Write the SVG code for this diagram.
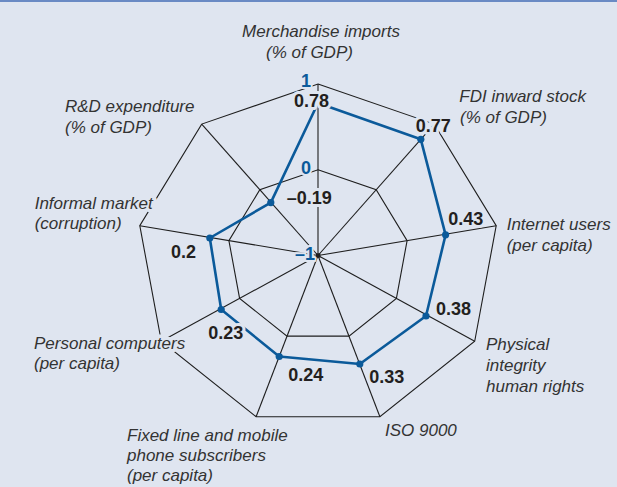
<svg xmlns="http://www.w3.org/2000/svg" width="617" height="487" viewBox="0 0 617 487">
<style>
.grid{fill:none;stroke:#1e1e1e;stroke-width:1.1;stroke-linejoin:miter}
.axis{stroke:#1e1e1e;stroke-width:1.1}
.series{fill:none;stroke:#0b5a9a;stroke-width:2.6;stroke-linejoin:round}
.dot{fill:#0b5a9a}
.lbl{font-family:"Liberation Sans",Arial,sans-serif;font-style:italic;font-size:17px;fill:#333333;stroke:#dfe5f0;stroke-width:7;stroke-linejoin:round;paint-order:stroke}
.val{font-family:"Liberation Sans",Arial,sans-serif;font-weight:bold;font-size:18px;fill:#231f20;stroke:#dfe5f0;stroke-width:6;stroke-linejoin:round;paint-order:stroke}
.scale{font-family:"Liberation Sans",Arial,sans-serif;font-weight:bold;font-size:18px;fill:#0b5a9a;text-anchor:end;stroke:#dfe5f0;stroke-width:4;stroke-linejoin:round;paint-order:stroke}
</style>
<rect x="0" y="0" width="617" height="487" fill="#dfe5f0"/>
<rect x="0" y="0" width="617" height="2" fill="#6a8ac4"/>
<g id="grid">
<polygon class="grid" points="318,84 434.3,124.1 496.2,225.7 474.7,341.3 379.9,416.7 256.1,416.7 161.3,341.3 139.8,225.7 201.7,124.1"/>
<polygon class="grid" points="318,169.8 376.2,189.8 407.1,240.6 396.4,298.4 349,336.1 287,336.1 239.6,298.4 228.9,240.6 259.8,189.8"/>
</g>
<g id="connectors">
<line class="axis" x1="318" y1="255.5" x2="318" y2="84"/>
<line class="axis" x1="318" y1="255.5" x2="434.3" y2="124.1"/>
<line class="axis" x1="318" y1="255.5" x2="496.2" y2="225.7"/>
<line class="axis" x1="318" y1="255.5" x2="474.7" y2="341.3"/>
<line class="axis" x1="318" y1="255.5" x2="379.9" y2="416.7"/>
<line class="axis" x1="318" y1="255.5" x2="256.1" y2="416.7"/>
<line class="axis" x1="318" y1="255.5" x2="161.3" y2="341.3"/>
<line class="axis" x1="318" y1="255.5" x2="139.8" y2="225.7"/>
<line class="axis" x1="318" y1="255.5" x2="201.7" y2="124.1"/>
<rect x="316" y="253.3" width="4.4" height="4.4" fill="#1e1e1e"/>
</g>
<g id="series">
<polygon class="series" points="318,103 420.8,139.3 445.6,234.8 426,316 359.8,364 279.2,356.5 221.2,309.5 209.8,238 270.8,202.6"/>
<circle class="dot" cx="318" cy="103" r="3.6"/>
<circle class="dot" cx="420.8" cy="139.3" r="3.6"/>
<circle class="dot" cx="445.6" cy="234.8" r="3.6"/>
<circle class="dot" cx="426" cy="316" r="3.6"/>
<circle class="dot" cx="359.8" cy="364" r="3.6"/>
<circle class="dot" cx="279.2" cy="356.5" r="3.6"/>
<circle class="dot" cx="221.2" cy="309.5" r="3.6"/>
<circle class="dot" cx="209.8" cy="238" r="3.6"/>
<circle class="dot" cx="270.8" cy="202.6" r="3.6"/>
</g>
<g id="scale">
<text class="scale" x="311" y="87">1</text>
<text class="scale" x="311" y="174">0</text>
<text class="scale" x="315" y="259.5">–1</text>
</g>
<g id="values">
<text class="val" x="294" y="106.5">0.78</text>
<text class="val" x="415.7" y="131.7">0.77</text>
<text class="val" x="448.3" y="225">0.43</text>
<text class="val" x="436" y="315">0.38</text>
<text class="val" x="369.3" y="383.3">0.33</text>
<text class="val" x="288.3" y="380.7">0.24</text>
<text class="val" x="208.3" y="339">0.23</text>
<text class="val" x="171" y="257.7">0.2</text>
<text class="val" x="286.7" y="204.3">–0.19</text>
</g>
<g id="node-merchandise">
<text class="lbl" x="321" y="37" text-anchor="middle">Merchandise imports</text>
<text class="lbl" x="266" y="57.5">(% of GDP)</text>
</g>
<g id="node-fdi">
<text class="lbl" x="459.3" y="101.7">FDI inward stock</text>
<text class="lbl" x="460" y="122.7">(% of GDP)</text>
</g>
<g id="node-internet">
<text class="lbl" x="506.7" y="230">Internet users</text>
<text class="lbl" x="506.7" y="251">(per capita)</text>
</g>
<g id="node-physical">
<text class="lbl" x="486" y="350">Physical</text>
<text class="lbl" x="486" y="371">integrity</text>
<text class="lbl" x="486" y="392">human rights</text>
</g>
<g id="node-iso">
<text class="lbl" x="385" y="436">ISO 9000</text>
</g>
<g id="node-fixed">
<text class="lbl" x="127" y="441">Fixed line and mobile</text>
<text class="lbl" x="127" y="461">phone subscribers</text>
<text class="lbl" x="127" y="481">(per capita)</text>
</g>
<g id="node-pc">
<text class="lbl" x="34" y="348.5">Personal computers</text>
<text class="lbl" x="34" y="369">(per capita)</text>
</g>
<g id="node-informal">
<text class="lbl" x="34.7" y="209">Informal market</text>
<text class="lbl" x="34.7" y="229">(corruption)</text>
</g>
<g id="node-rd">
<text class="lbl" x="65" y="112.3">R&amp;D expenditure</text>
<text class="lbl" x="65" y="132.7">(% of GDP)</text>
</g>
</svg>
